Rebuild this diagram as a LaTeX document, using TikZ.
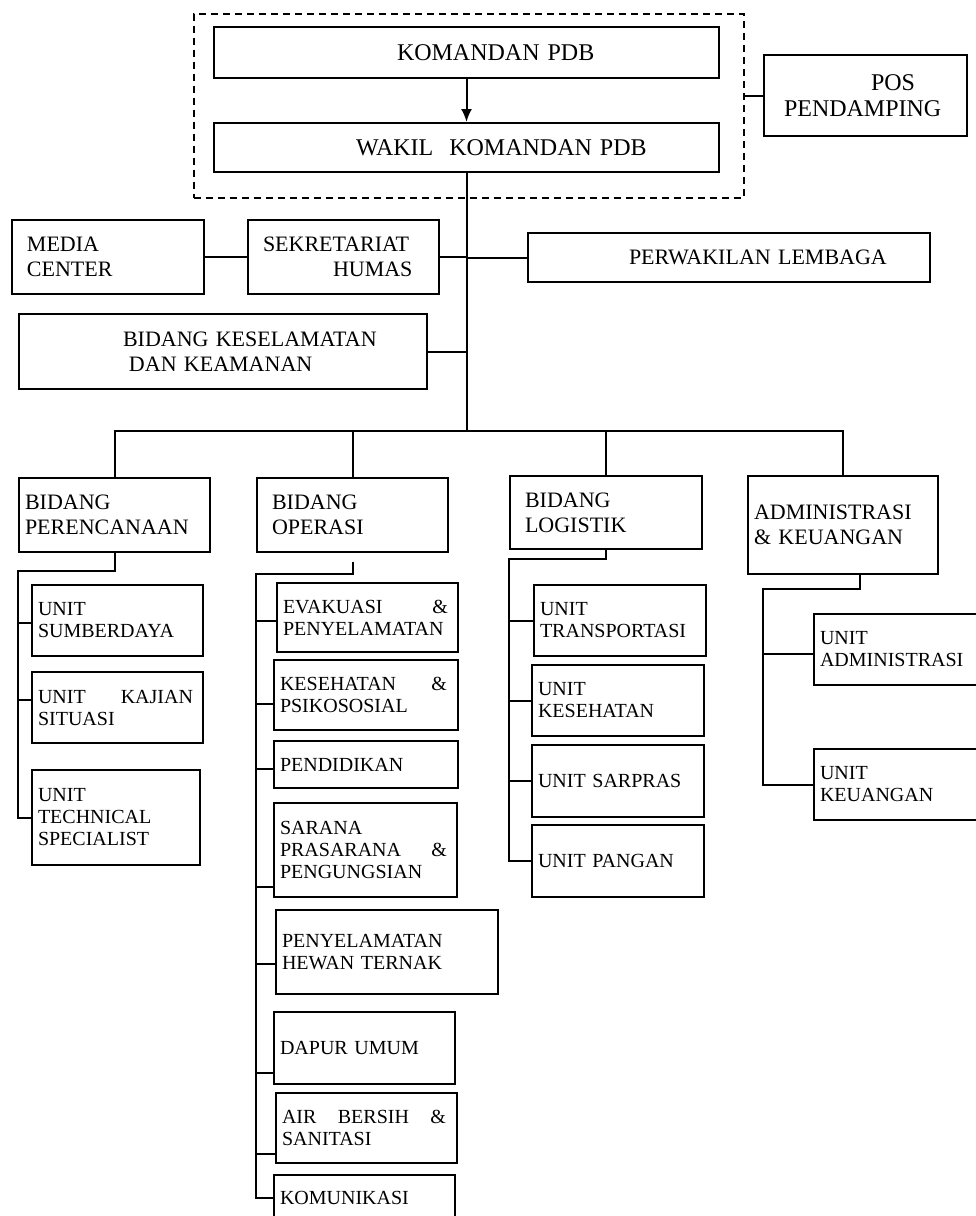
\documentclass[tikz,border=0pt]{standalone}
\usepackage{fontspec}
\setmainfont{Liberation Serif}
\usepackage{tikz}
\usetikzlibrary{arrows.meta,positioning}

\newcommand{\unitfont}{\fontsize{20}{22}\selectfont}
\newcommand{\bidfont}{\fontsize{22}{25}\selectfont}
\newcommand{\headfont}{\fontsize{24}{26}\selectfont}
% justified line of fixed width
\newcommand{\jl}[3]{\leavevmode\hbox to #1{#2\hfill #3}}

\begin{document}
\begin{tikzpicture}[x=1pt, y=-1pt]
		\tikzstyle{box}=[draw=black, rectangle, line width=2pt, anchor=north west, align=left, inner xsep=6pt, inner ysep=2pt, font=\unitfont]
		\tikzstyle{bid}=[box, font=\bidfont]
		\tikzstyle{head}=[box, font=\headfont]
		\tikzstyle{group}=[draw=black, rectangle, dash pattern=on 7pt off 5pt, line width=1.8pt, anchor=north west, inner sep=0pt, minimum width=550pt, minimum height=184pt]
		\tikzstyle{orgline}=[draw=black, line width=2pt]
		
		\path[use as bounding box, fill=white] (0,0) rectangle (976,1216);
		
		% Pimpinan
		\node at (193, 13) [group] (frame) {};
		\node at (213, 26) [head, text width=493pt, minimum height=51pt] (kom) {\hspace*{177pt}KOMANDAN PDB};
		\node at (213, 122) [head, text width=493pt, minimum height=49pt] (wakil) {\hspace*{136pt}WAKIL~~KOMANDAN PDB};
		\node at (763, 54) [head, inner xsep=20pt, text width=163pt, minimum height=81pt] (pos) {\hspace*{87pt}POS\\PENDAMPING};
		
		% Staf
		\node at (11, 219) [bid, inner xsep=15pt, text width=162pt, minimum height=74pt] (media) {MEDIA\\CENTER};
		\node at (247, 219) [bid, inner xsep=15pt, text width=161pt, minimum height=74pt] (sekr) {SEKRETARIAT\\\hspace*{70pt}HUMAS};
		\node at (527, 232) [bid, text width=390pt, minimum height=49pt] (perw) {\hspace*{95pt}PERWAKILAN LEMBAGA};
		\node at (18, 313) [bid, text width=396pt, minimum height=75pt] (bkk) {\hspace*{98pt}BIDANG KESELAMATAN\\\hspace*{104pt}DAN KEAMANAN};
		
		% Bidang
		\node at (18, 477) [bid, text width=179pt, minimum height=74pt] (per) {BIDANG\\PERENCANAAN};
		\node at (256, 477) [bid, inner xsep=15pt, text width=161pt, minimum height=74pt] (ops) {BIDANG\\OPERASI};
		\node at (509, 475) [bid, inner xsep=15pt, text width=162pt, minimum height=73pt] (log) {BIDANG\\LOGISTIK};
		\node at (747, 475) [bid, text width=178pt, minimum height=98pt] (adm) {ADMINISTRASI\\\& KEUANGAN};
		
		% Unit perencanaan
		\node at (31, 584) [box, text width=159pt, minimum height=71pt] (u_sum) {UNIT\\SUMBERDAYA};
		\node at (31, 671) [box, text width=159pt, minimum height=71pt] (u_kaj) {\jl{155pt}{UNIT}{KAJIAN}\\SITUASI};
		\node at (31, 769) [box, text width=156pt, minimum height=95pt] (u_tech) {UNIT\\TECHNICAL\\SPECIALIST};
		
		% Unit operasi
		\node at (276, 582) [box, text width=169pt, minimum height=69pt] (evak) {\jl{165pt}{EVAKUASI}{\&}\\PENYELAMATAN};
		\node at (273, 659) [box, text width=172pt, minimum height=70pt] (kes) {\jl{167pt}{KESEHATAN}{\&}\\PSIKOSOSIAL};
		\node at (273, 740) [box, text width=172pt, minimum height=47pt] (pend) {PENDIDIKAN};
		\node at (273, 802) [box, text width=171pt, minimum height=94pt] (sar) {SARANA\\\jl{167pt}{PRASARANA}{\&}\\PENGUNGSIAN};
		\node at (275, 909) [box, text width=210pt, minimum height=84pt] (hew) {PENYELAMATAN\\HEWAN TERNAK};
		\node at (273, 1011) [box, text width=169pt, minimum height=72pt] (dap) {DAPUR UMUM};
		\node at (275, 1092) [box, text width=169pt, minimum height=70pt] (air) {\jl{164pt}{AIR\hfill BERSIH}{\&}\\SANITASI};
		\node at (273, 1174) [box, text width=169pt, minimum height=46pt] (kmk) {KOMUNIKASI};
		
		% Unit logistik
		\node at (533, 584) [box, text width=160pt, minimum height=71pt] (u_tra) {UNIT\\TRANSPORTASI};
		\node at (531, 664) [box, text width=160pt, minimum height=71pt] (u_kes) {UNIT\\KESEHATAN};
		\node at (531, 744) [box, text width=160pt, minimum height=72pt] (u_sar) {UNIT SARPRAS};
		\node at (531, 824) [box, text width=160pt, minimum height=72pt] (u_pan) {UNIT PANGAN};
		
		% Unit administrasi
		\node at (813, 613) [box, text width=160pt, minimum height=71pt] (u_adm) {UNIT\\ADMINISTRASI};
		\node at (813, 748) [box, text width=160pt, minimum height=71pt] (u_keu) {UNIT\\KEUANGAN};
		
		% Garis komando
		\draw[orgline, -{Latex[length=13pt, width=11pt]}] (kom) -- (wakil);
		\draw[orgline] (pos.west) -- (pos.west -| frame.east);
		\path (wakil.south) ++(0, 258) coordinate (bus);
		\draw[orgline] (wakil.south) -- (bus);
		\draw[orgline] (media) -- (sekr);
		\draw[orgline] (sekr.east) -- (sekr.east -| bus);
		\draw[orgline] (perw.west) -- (perw.west -| bus);
		\draw[orgline] (bkk.east) -- (bkk.east -| bus);
		\draw[orgline] (per.north) |- (bus) -| (adm.north);
		\draw[orgline] (ops.north) -- (ops.north |- bus);
		\draw[orgline] (log.north) -- (log.north |- bus);
		
		% Perencanaan -> unit
		\coordinate (per_bus) at (18, 571);
		\draw[orgline] (per.south) |- (per_bus) |- (u_tech.west);
		\foreach \n/\d in {u_sum/-2, u_kaj/8}
		\draw[orgline] ([yshift=\d pt]\n.west) coordinate (b) -- (b -| per_bus);
		
		% Operasi -> unit
		\coordinate (ops_bus) at (256, 574);
		\draw[orgline] ([yshift=-9pt]ops.south) |- (ops_bus) |- (kmk.west);
		\foreach \n/\d in {evak/-3, kes/-9, pend/-4, sar/-37, hew/-12, dap/-25, air/-26}
		\draw[orgline] ([yshift=\d pt]\n.west) coordinate (b) -- (b -| ops_bus);
		
		% Logistik -> unit
		\coordinate (log_bus) at (509, 559);
		\draw[orgline] (log.south) |- (log_bus) |- (u_pan.west);
		\foreach \n in {u_tra, u_kes, u_sar}
		\draw[orgline] (\n.west) -- (\n.west -| log_bus);
		
		% Administrasi -> unit
		\coordinate (adm_bus) at (763, 589);
		\draw[orgline] ([xshift=17pt]adm.south) |- (adm_bus) |- (u_keu.west);
		\draw[orgline] ([yshift=-4pt]u_adm.west) coordinate (b) -- (b -| adm_bus);
		
\end{tikzpicture}
\end{document}
